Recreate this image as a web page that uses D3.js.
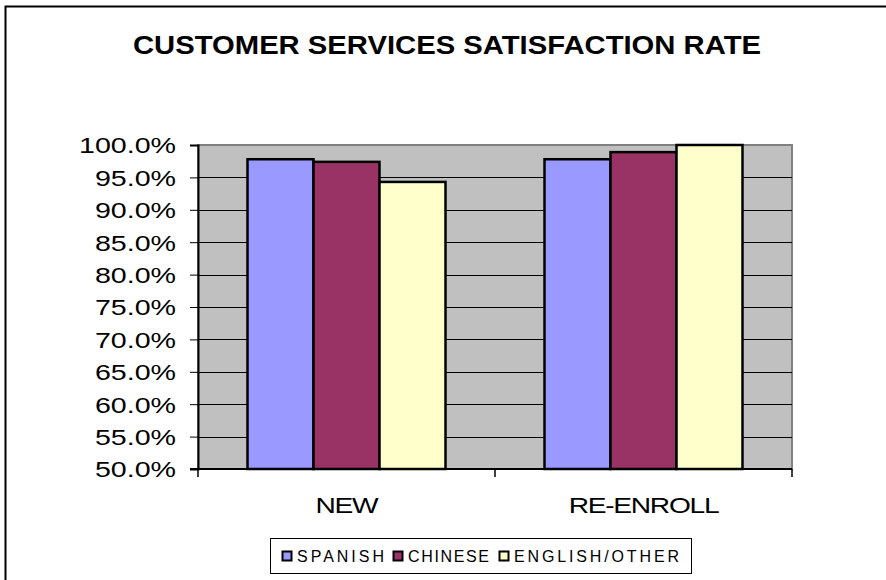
<!DOCTYPE html>
<html>
<head>
<meta charset="utf-8">
<script src="https://cdn.jsdelivr.net/npm/d3@7"></script>
<style>
html,body{margin:0;padding:0;background:#fff;}
svg{display:block;font-family:"Liberation Sans",Arial,sans-serif;}
</style>
</head>
<body>
<svg id="chart" width="886" height="580"></svg>
<script>
const title = "CUSTOMER SERVICES SATISFACTION RATE";
const categories = ["NEW", "RE-ENROLL"];
const seriesNames = ["SPANISH", "CHINESE", "ENGLISH/OTHER"];
const spanish = [0.978, 0.978];
const chinese = [0.974, 0.989];
const englishOther = [0.943, 1.000];
const seriesColors = ["#9999FF", "#993366", "#FFFFCC"];
const yTicks = [0.50, 0.55, 0.60, 0.65, 0.70, 0.75, 0.80, 0.85, 0.90, 0.95, 1.00];

const seriesValues = [spanish, chinese, englishOther];

const svg = d3.select("#chart");
const L = 198, R = 792, T = 145, B = 469;

function stretch(sel, f) {
  sel.each(function() {
    const w = this.getComputedTextLength();
    d3.select(this).attr("textLength", w * f).attr("lengthAdjust", "spacingAndGlyphs");
  });
}

// outer border (left & top)
svg.append("path").attr("d", `M5.5,580 V6.5 H886`).attr("fill","none").attr("stroke","#000").attr("stroke-width",2);

// title
svg.append("text").attr("x", 447).attr("y", 54).attr("text-anchor","middle")
  .attr("font-size", 25).attr("font-weight","bold")
  .attr("textLength", 628).attr("lengthAdjust","spacingAndGlyphs")
  .text(title);

const y = d3.scaleLinear().domain([0.5, 1.0]).range([B, T]);
const x0 = d3.scaleBand().domain(categories).range([L, R]).padding(0);
const bw = x0.bandwidth();
const gap = bw / (seriesNames.length + 1.5) * 1.5;
const x1 = d3.scaleBand().domain(seriesNames).range([gap/2, bw - gap/2]).padding(0);

// plot area
svg.append("rect").attr("x", L).attr("y", T).attr("width", R-L).attr("height", B-T)
  .attr("fill","#C0C0C0").attr("stroke","#808080").attr("stroke-width",2);

// gridlines
svg.append("g").selectAll("line").data(yTicks.filter(t => t > 0.5 && t < 1.0)).join("line")
  .attr("x1", L).attr("x2", R)
  .attr("y1", d => Math.round(y(d)) + 0.5).attr("y2", d => Math.round(y(d)) + 0.5)
  .attr("stroke","#000").attr("stroke-width",1);

// bars
const data = [];
categories.forEach((c, i) => seriesNames.forEach((s, j) => data.push({c, s, v: seriesValues[j][i], color: seriesColors[j]})));
svg.append("g").selectAll("rect").data(data).join("rect")
  .attr("x", d => x0(d.c) + x1(d.s))
  .attr("y", d => y(d.v))
  .attr("width", x1.bandwidth())
  .attr("height", d => y(0.5) - y(d.v))
  .attr("fill", d => d.color)
  .attr("stroke","#000").attr("stroke-width",2.5);

// y axis
const yAxis = d3.axisLeft(y).tickValues(yTicks).tickFormat(d3.format(".1%")).tickSize(8).tickPadding(14);
const gy = svg.append("g").attr("transform", `translate(${L},0)`).call(yAxis);
gy.select(".domain").attr("stroke","#000").attr("stroke-width",2);
gy.selectAll(".tick line").attr("stroke","#000");
gy.selectAll("text").attr("font-size", 22).attr("fill","#000").attr("dy","0.36em")
  .attr("font-family","Liberation Sans, Arial, sans-serif");
stretch(gy.selectAll("text"), 1.3);

// x axis
const gx = svg.append("g").attr("transform", `translate(0,${B})`);
gx.append("line").attr("x1", L-8).attr("x2", R).attr("y1", 0).attr("y2", 0).attr("stroke","#000").attr("stroke-width",2);
gx.selectAll(".xt").data([L, ...categories.map(c => x0(c) + bw)]).join("line")
  .attr("class","xt").attr("x1", d => d).attr("x2", d => d).attr("y1", 0).attr("y2", 8)
  .attr("stroke","#000").attr("stroke-width",1.5);
const xl = gx.selectAll("text").data(categories).join("text")
  .attr("x", d => x0(d) + bw/2).attr("y", 44).attr("text-anchor","middle")
  .attr("font-size", 22).attr("letter-spacing", -1).text(d => d);
stretch(xl, 1.28);

// legend
const lg = svg.append("g");
lg.append("rect").attr("x", 270.5).attr("y", 538.5).attr("width", 421).attr("height", 35)
  .attr("fill","#fff").attr("stroke","#000").attr("stroke-width",1);
const legendX = [282, 393, 499];
const legendW = [87, 81, 165];
seriesNames.forEach((s, i) => {
  lg.append("rect").attr("x", legendX[i] + 0.5).attr("y", 551.5).attr("width", 9).attr("height", 9)
    .attr("fill", seriesColors[i]).attr("stroke","#000").attr("stroke-width",2);
  lg.append("text").attr("x", legendX[i] + 15).attr("y", 562).attr("font-size", 16)
    .attr("textLength", legendW[i]).attr("lengthAdjust","spacing").text(s);
});
</script>
</body>
</html>
